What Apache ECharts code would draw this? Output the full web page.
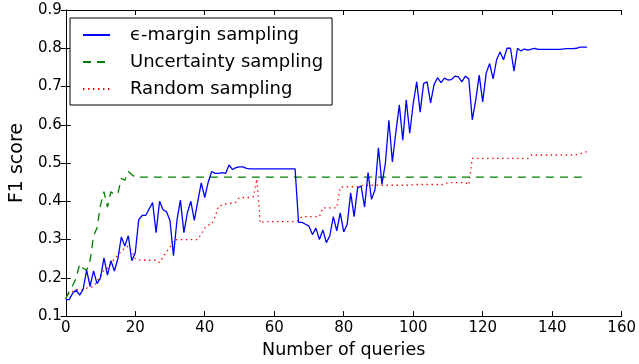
<!DOCTYPE html>
<html>
<head>
<meta charset="utf-8">
<script src="https://cdn.jsdelivr.net/npm/echarts@6/dist/echarts.min.js"></script>
<style>html,body{margin:0;padding:0;background:#fff}#c{width:639px;height:364px}</style>
</head>
<body>
<div id="c"></div>
<script>
var seriesNames = ['\u03f5-margin sampling', 'Uncertainty sampling', 'Random sampling'];
var xTicks = [0, 20, 40, 60, 80, 100, 120, 140, 160];
var yTicks = [0.1, 0.2, 0.3, 0.4, 0.5, 0.6, 0.7, 0.8, 0.9];

// epsilon-margin sampling, x = 0..150
var marginY = [
 0.143,0.143,0.160,0.168,0.155,0.170,0.220,0.178,0.218,0.185,
 0.200,0.252,0.207,0.245,0.218,0.250,0.307,0.283,0.310,0.245,
 0.265,0.352,0.363,0.363,0.380,0.397,0.318,0.400,0.378,0.373,
 0.350,0.258,0.350,0.403,0.318,0.370,0.400,0.350,0.400,0.448,
 0.410,0.450,0.478,0.473,0.473,0.475,0.473,0.495,0.483,0.488,
 0.490,0.490,0.486,0.485,0.485,0.485,0.485,0.485,0.485,0.485,
 0.485,0.485,0.485,0.485,0.485,0.485,0.485,0.345,0.345,0.340,
 0.335,0.313,0.330,0.300,0.325,0.292,0.310,0.360,0.323,0.370,
 0.320,0.340,0.422,0.360,0.435,0.440,0.385,0.475,0.405,0.430,
 0.540,0.445,0.500,0.612,0.503,0.580,0.652,0.560,0.665,0.578,
 0.655,0.712,0.633,0.708,0.712,0.657,0.705,0.723,0.710,0.722,
 0.717,0.718,0.727,0.725,0.712,0.727,0.720,0.613,0.665,0.730,
 0.660,0.735,0.760,0.720,0.770,0.790,0.770,0.800,0.800,0.740,
 0.800,0.793,0.798,0.795,0.798,0.800,0.797,0.797,0.797,0.797,
 0.797,0.797,0.797,0.798,0.799,0.799,0.799,0.800,0.803,0.803,
 0.803
];

// Uncertainty sampling (x positions and values; flat after x = 20)
var uncertX = [0,1,2,3,4,5,6,7,8,9,10,11,12,13,14,15,16,17,18,19,20,150];
var uncertY = [0.145,0.165,0.180,0.200,0.236,0.225,0.220,0.245,0.310,0.330,
               0.390,0.425,0.385,0.425,0.418,0.420,0.460,0.455,0.478,0.470,
               0.463,0.463];

// Random sampling, x = 0..150
var randomY = [
 0.145,0.160,0.165,0.170,0.168,0.170,0.173,0.175,0.178,0.190,
 0.205,0.220,0.225,0.238,0.250,0.258,0.270,0.278,0.283,0.270,
 0.250,0.247,0.246,0.246,0.246,0.246,0.246,0.240,0.255,0.268,
 0.280,0.298,0.300,0.300,0.300,0.300,0.300,0.300,0.300,0.315,
 0.330,0.338,0.340,0.360,0.388,0.390,0.393,0.395,0.395,0.398,
 0.410,0.410,0.410,0.410,0.412,0.458,0.343,0.347,0.347,0.347,
 0.347,0.347,0.347,0.347,0.347,0.347,0.347,0.350,0.360,0.360,
 0.360,0.360,0.360,0.360,0.383,0.383,0.383,0.383,0.383,0.437,
 0.438,0.438,0.438,0.438,0.438,0.440,0.442,0.442,0.442,0.442,
 0.442,0.442,0.442,0.442,0.442,0.442,0.442,0.442,0.442,0.442,
 0.444,0.444,0.444,0.444,0.444,0.444,0.444,0.444,0.444,0.444,
 0.449,0.449,0.449,0.449,0.449,0.449,0.443,0.512,0.512,0.512,
 0.512,0.512,0.512,0.512,0.512,0.512,0.512,0.512,0.512,0.512,
 0.512,0.512,0.512,0.512,0.521,0.521,0.521,0.521,0.521,0.521,
 0.521,0.521,0.521,0.521,0.521,0.521,0.521,0.522,0.524,0.527,
 0.530
];

function pairsIdx(ys){ return ys.map(function(v,i){ return [i, v]; }); }
function pairsXY(xs, ys){ return xs.map(function(x,i){ return [x, ys[i]]; }); }

var FONT = 'DejaVu Sans';
var chart = echarts.init(document.getElementById('c'), null, {renderer:'canvas'});
var axisCommon = {
  axisLine: {show: true, lineStyle: {color: '#000', width: 1}},
  axisTick: {show: true, inside: true, length: 5, lineStyle: {color: '#000'}},
  splitLine: {show: false}
};
chart.setOption({
  animation: false,
  backgroundColor: '#fff',
  grid: {left: 61, right: 13, top: 10, bottom: 46},
  legend: {
    data: seriesNames,
    orient: 'vertical',
    left: 70, top: 18,
    backgroundColor: '#fff',
    borderColor: '#000', borderWidth: 1, borderRadius: 0,
    padding: [8, 9, 7, 12],
    itemWidth: 27, itemHeight: 14, itemGap: 9,
    itemStyle: {opacity: 0},
    textStyle: {fontFamily: FONT, fontSize: 18, color: '#000', padding: [0,0,0,15]}
  },
  xAxis: [
    Object.assign({type: 'value', min: xTicks[0], max: xTicks[xTicks.length-1], interval: 20,
      name: 'Number of queries', nameLocation: 'middle', nameGap: 20,
      nameTextStyle: {fontFamily: FONT, fontSize: 17.5, color: '#000'},
      axisLabel: {fontFamily: FONT, fontSize: 15, color: '#000', margin: 5}}, axisCommon),
    Object.assign({type: 'value', position: 'top', min: xTicks[0], max: xTicks[xTicks.length-1], interval: 20,
      axisLabel: {show: false}}, axisCommon)
  ],
  yAxis: [
    Object.assign({type: 'value', min: yTicks[0], max: yTicks[yTicks.length-1], interval: 0.1,
      name: 'F1 score', nameLocation: 'middle', nameGap: 27,
      nameTextStyle: {fontFamily: FONT, fontSize: 19, color: '#000'},
      axisLabel: {fontFamily: FONT, fontSize: 15, color: '#000', margin: 4,
        formatter: function(v){ return v.toFixed(1); }}}, axisCommon),
    Object.assign({type: 'value', position: 'right', min: yTicks[0], max: yTicks[yTicks.length-1], interval: 0.1,
      axisLabel: {show: false}}, axisCommon)
  ],
  series: [
    {name: seriesNames[0], type: 'line', data: pairsIdx(marginY), symbol: 'none',
     color: '#0000ff', lineStyle: {color: '#0000ff', width: 1.3}, z: 4},
    {name: seriesNames[1], type: 'line', data: pairsXY(uncertX, uncertY), symbol: 'none',
     color: '#008000', lineStyle: {color: '#008000', width: 1.3, type: [8, 6]}, z: 3},
    {name: seriesNames[2], type: 'line', data: pairsIdx(randomY), symbol: 'none',
     color: '#ff0000', lineStyle: {color: '#ff0000', width: 1.3, type: [1.4, 3.6]}, z: 2}
  ]
});
</script>
</body>
</html>
